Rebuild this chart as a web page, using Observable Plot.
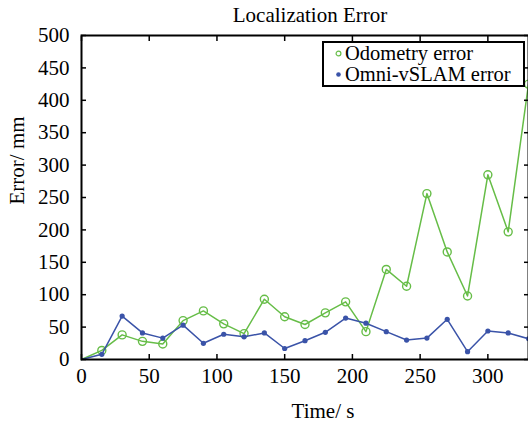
<!DOCTYPE html>
<html>
<head>
<meta charset="utf-8">
<script src="https://cdn.jsdelivr.net/npm/d3@7"></script>
<script src="https://cdn.jsdelivr.net/npm/@observablehq/plot@0.6"></script>
<style>
  html, body { margin: 0; padding: 0; background: #fff; overflow: hidden; }
  #wrap { position: relative; width: 528px; height: 423px; overflow: hidden; }
  #wrap svg text { font-family: 'Liberation Serif', 'Times New Roman', serif; }
  #legend { position: absolute; left: 322px; top: 41px; width: 203px; height: 46px;
    border: 2px solid #000; background: #fff; font-family: 'Liberation Serif', 'Times New Roman', serif;
    font-size: 20.5px; line-height: 21px; box-sizing: border-box; padding-top: 0px; }
  #legend div { display: flex; align-items: center; white-space: nowrap; height: 21px; }
  #legend svg { margin: 0 3px 0 11px; }
</style>
</head>
<body>
<div id="wrap"></div>
<script>
const title = "Localization Error";
const xLabel = "Time/ s";
const yLabel = "Error/ mm";
const seriesNames = ["Odometry error", "Omni-vSLAM error"];
const seriesColors = ["#66bd47", "#3a53a8"];
const time = [0, 15, 30, 45, 60, 75, 90, 105, 120, 135, 150, 165, 180, 195, 210, 225, 240, 255, 270, 285, 300, 315, 330];
const odometry = [0, 14, 38, 28, 24, 60, 75, 55, 40, 93, 66, 54, 72, 89, 43, 139, 113, 256, 166, 98, 285, 197, 425];
const omni = [0, 8, 67, 41, 33, 53, 25, 39, 35, 41, 17, 29, 42, 64, 56, 43, 30, 33, 62, 12, 44, 41, 32];
const xTicks = [0, 50, 100, 150, 200, 250, 300];
const yTicks = [0, 50, 100, 150, 200, 250, 300, 350, 400, 450, 500];

const odo = time.map((t, i) => ({t, v: odometry[i]}));
const om = time.map((t, i) => ({t, v: omni[i]}));

const font = "'Liberation Serif', 'Times New Roman', serif";

const chart = Plot.plot({
  width: 528,
  height: 423,
  marginTop: 35,
  marginLeft: 81,
  marginRight: 0,
  marginBottom: 64,
  style: {fontFamily: font, fontSize: "21px", color: "#000", background: "#fff", overflow: "visible"},
  x: {domain: [0, 330]},
  y: {domain: [0, 500]},
  marks: [
    Plot.line(odo, {x: "t", y: "v", stroke: seriesColors[0], strokeWidth: 1.5}),
    Plot.dot(odo.slice(1), {x: "t", y: "v", r: 4, stroke: seriesColors[0], strokeWidth: 1.4, fill: "none"}),
    Plot.line(om, {x: "t", y: "v", stroke: seriesColors[1], strokeWidth: 1.5}),
    Plot.dot(om.slice(1), {x: "t", y: "v", r: 2.6, fill: seriesColors[1], stroke: "none"}),
    Plot.frame({stroke: "#000", strokeWidth: 2}),
    Plot.axisX(xTicks, {anchor: "bottom", tickSize: -5, tickPadding: 14, label: null, fontSize: 21, fontFamily: font, strokeWidth: 1.5}),
    Plot.axisX(xTicks, {anchor: "top", tickSize: -5, text: null, label: null, strokeWidth: 1.5}),
    Plot.axisY(yTicks, {anchor: "left", tickSize: -5, tickPadding: 17, label: null, fontSize: 21, fontFamily: font, strokeWidth: 1.5}),
    Plot.axisY(yTicks, {anchor: "right", tickSize: -5, text: null, label: null, strokeWidth: 1.5}),
    Plot.text([title], {frameAnchor: "top", dy: -20, dx: 5, text: d => d, fontSize: 21, fontFamily: font, lineAnchor: "middle"}),
    Plot.text([xLabel], {frameAnchor: "bottom", dy: 52, dx: 18, text: d => d, fontSize: 21, fontFamily: font, lineAnchor: "middle"}),
    Plot.text([yLabel], {frameAnchor: "left", dx: -64, dy: 7, rotate: -90, text: d => d, fontSize: 21, fontFamily: font, lineAnchor: "middle"})
  ]
});

const wrap = document.getElementById("wrap");
wrap.appendChild(chart);

const legend = document.createElement("div");
legend.id = "legend";
seriesNames.forEach((name, i) => {
  const row = document.createElement("div");
  const sym = i === 0
    ? `<svg width="7" height="7"><circle cx="3.5" cy="3.5" r="2.4" fill="none" stroke="${seriesColors[0]}" stroke-width="1.2"/></svg>`
    : `<svg width="7" height="7"><circle cx="3.5" cy="3.5" r="2.3" fill="${seriesColors[1]}"/></svg>`;
  row.innerHTML = sym + `<span>${name}</span>`;
  legend.appendChild(row);
});
wrap.appendChild(legend);
</script>
</body>
</html>
